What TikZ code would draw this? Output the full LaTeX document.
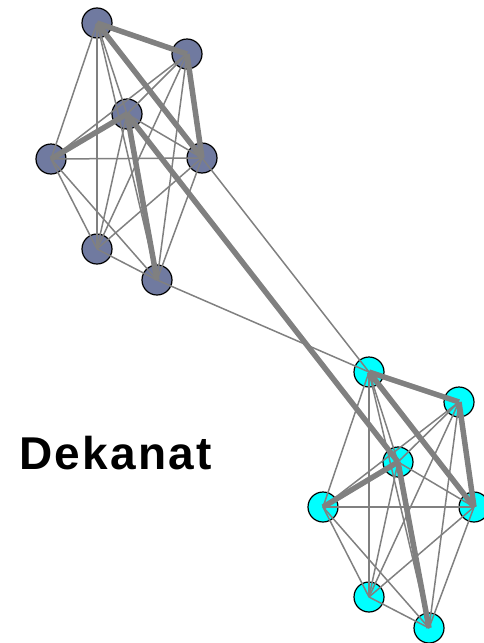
\documentclass[tikz,border=0pt]{standalone}
\usepackage{fontspec}
\usepackage{xcolor}
\newfontfamily\clusterfont{Liberation Sans}[LetterSpace=5]
\usetikzlibrary{positioning}

\definecolor{slate}{RGB}{112,122,160}
\definecolor{aqua}{RGB}{0,255,255}
\definecolor{tiegray}{RGB}{128,128,128}

\begin{document}
\begin{tikzpicture}[
  x=1pt, y=-1pt,
  member/.style={circle, draw=black, line width=1.2pt, minimum size=30pt, inner sep=0pt},
  upper/.style={member, fill=slate},
  lower/.style={member, fill=aqua},
  tie/.style={draw=tiegray, line width=1.5pt},
  strongtie/.style={draw=tiegray, line width=5.5pt}
]

\useasboundingbox (0,0) rectangle (483,643);

% first group
\node (a1) [upper] at (97,23) {};
\node (a2) [upper] at (187,54) {};
\node (a3) [upper] at (127,114) {};
\node (a4) [upper] at (51,159) {};
\node (a5) [upper] at (202,158) {};
\node (a6) [upper] at (97,249) {};
\node (a7) [upper] at (157,280) {};

% second group
\node (b1) [lower] at (369,372) {};
\node (b2) [lower] at (459,402) {};
\node (b3) [lower] at (398,462) {};
\node (b4) [lower] at (323,507) {};
\node (b5) [lower] at (474,507) {};
\node (b6) [lower] at (369,597) {};
\node (b7) [lower] at (429,628) {};

\foreach \c in {a,b}{
  \foreach \i/\j in {1/3,1/4,1/6,1/7,2/3,2/4,2/6,2/7,3/5,3/6,4/5,4/6,4/7,5/6,5/7,6/7}
    \draw[tie] (\c\i.center) -- (\c\j.center);
  \foreach \i/\j in {1/2,1/5,2/5,3/4,3/7}
    \draw[strongtie] (\c\i.center) -- (\c\j.center);
}

% between the groups
\draw[strongtie] (a3.center) -- (b3.center);
\draw[tie] (a5.center) -- (b1.center);
\draw[tie] (a7.center) -- (b1.center);

\node (dekanat) [anchor=base west, inner sep=0pt,
  font=\clusterfont\bfseries\fontsize{46pt}{46pt}\selectfont] at (19,469) {Dekanat};

\end{tikzpicture}
\end{document}
